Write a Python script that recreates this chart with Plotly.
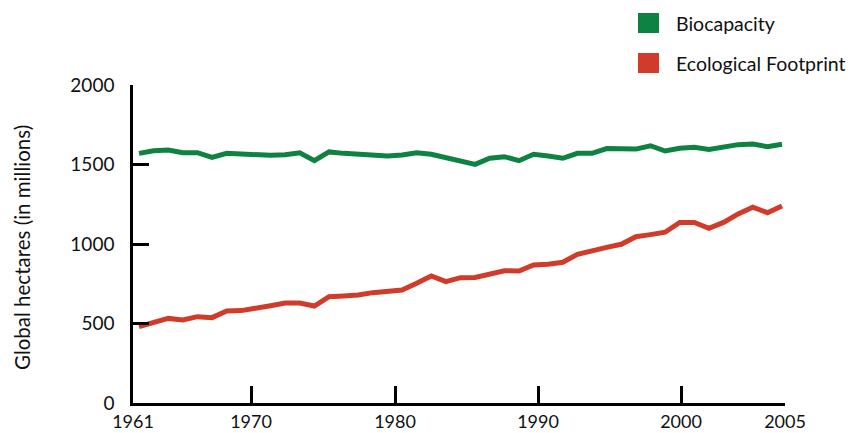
import plotly.graph_objects as go

# ---- data ----
years = list(range(1961, 2006))
biocapacity = [1570, 1587, 1591, 1574, 1574, 1545, 1570, 1564, 1562, 1558,
               1562, 1574, 1524, 1579, 1570, 1564, 1558, 1553, 1560, 1574,
               1564, 1543, 1522, 1501, 1539, 1549, 1524, 1564, 1553, 1539,
               1570, 1570, 1600, 1600, 1597, 1618, 1585, 1602, 1608, 1595,
               1612, 1625, 1629, 1612, 1627]
footprint = [480, 507, 532, 522, 543, 537, 579, 581, 600, 612,
             629, 629, 610, 669, 673, 679, 694, 702, 711, 753,
             799, 763, 788, 790, 813, 832, 830, 868, 872, 885,
             935, 960, 979, 998, 1046, 1059, 1074, 1136, 1136, 1099,
             1136, 1189, 1231, 1197, 1239]
x_tick_labels = ["1961", "1970", "1980", "1990", "2000", "2005"]
y_ticks = [0, 500, 1000, 1500, 2000]
series_names = ["Biocapacity", "Ecological Footprint"]

GREEN = "#0e8241"
RED = "#d13b29"
FONT = "Lato"

W, H = 852, 433
L, R, T, B = 133, 785, 85, 403          # plot area in pixels
data_x0_px, data_x1_px = 139, 782       # where 1961 / 2005 fall
ppy = (data_x1_px - data_x0_px) / (years[-1] - years[0])
xr0 = years[0] - (data_x0_px - L) / ppy
xr1 = years[-1] + (R - data_x1_px) / ppy

def px_to_year(px):
    return xr0 + (px - L) / ppy

def pxx(px):
    return (px - L) / (R - L)

def pxy(py):
    return (B - py) / (B - T)

# tick positions as drawn in the reference
tick_px = [L, 251, 395, 538, 681, R]
tickvals = [px_to_year(p) for p in tick_px]

fig = go.Figure()
fig.add_trace(go.Scatter(x=years, y=biocapacity, mode="lines", name=series_names[0],
                         line=dict(color=GREEN, width=5), showlegend=False))
fig.add_trace(go.Scatter(x=years, y=footprint, mode="lines", name=series_names[1],
                         line=dict(color=RED, width=5), showlegend=False))

# legend drawn as squares + labels
legend_items = [(series_names[0], GREEN, 13), (series_names[1], RED, 53)]
for name, col, top in legend_items:
    fig.add_shape(type="rect", xref="paper", yref="paper",
                  x0=pxx(638), x1=pxx(659), y0=pxy(top + 20), y1=pxy(top),
                  fillcolor=col, line=dict(width=0))
    fig.add_annotation(xref="paper", yref="paper", x=pxx(674), y=pxy(top + 10.5),
                       text=name, showarrow=False, xanchor="left", yanchor="middle",
                       font=dict(family=FONT, size=19.5, color="#111111"))

fig.add_annotation(xref="paper", yref="paper", x=pxx(22), y=pxy(248),
                   text="Global hectares (in millions)", textangle=-90,
                   showarrow=False, xanchor="center", yanchor="middle",
                   font=dict(family=FONT, size=20.5, color="#111111"))

fig.update_layout(
    width=W, height=H,
    margin=dict(l=L, r=W - R, t=T, b=H - B, pad=0, autoexpand=False),
    paper_bgcolor="white", plot_bgcolor="white",
    font=dict(family=FONT, size=19, color="#111111"),
    xaxis=dict(range=[xr0, xr1], tickmode="array", tickvals=tickvals,
               ticktext=x_tick_labels, ticks="inside", ticklen=17, tickwidth=2.5,
               tickcolor="black", showline=True, linecolor="black", linewidth=2.5,
               showgrid=False, zeroline=False, ticklabelstandoff=1,
               automargin=False,
               tickfont=dict(family=FONT, size=18, color="#111111")),
    yaxis=dict(range=[0, 2000], tickmode="array", tickvals=y_ticks,
               ticks="inside", ticklen=16, tickwidth=2.5, tickcolor="black",
               showline=True, linecolor="black", linewidth=2.5,
               showgrid=False, zeroline=False, ticklabelstandoff=12,
               automargin=False,
               tickfont=dict(family=FONT, size=19, color="#111111")),
)

fig.write_html("out.html",
               config={"displayModeBar": False},
               post_script="document.body.style.margin='0';"
                           "document.body.style.overflow='hidden';")
